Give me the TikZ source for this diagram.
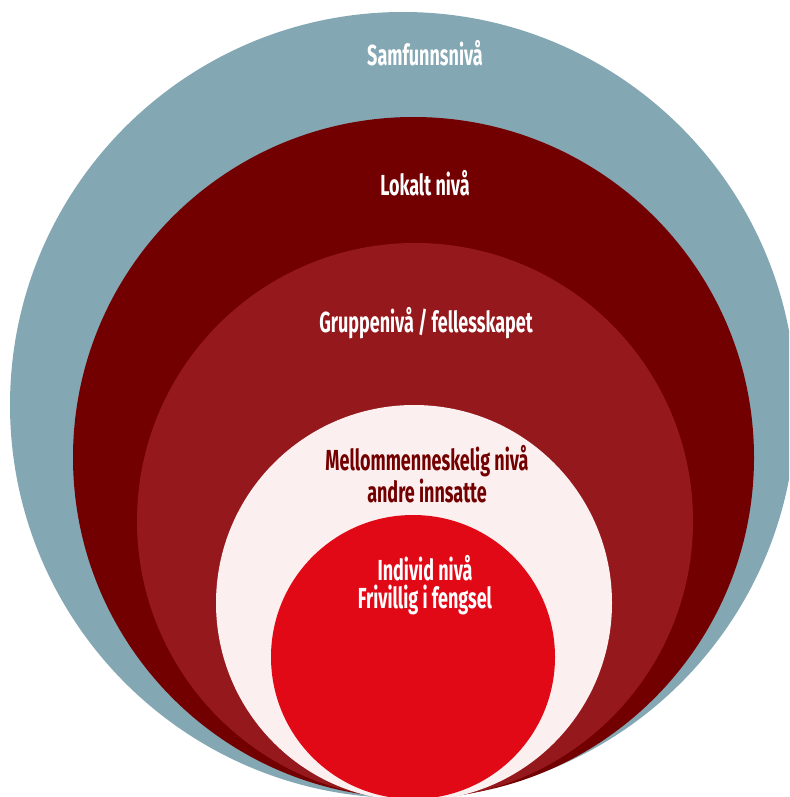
\documentclass[tikz,border=0pt]{standalone}
\usepackage{fontspec}
\setmainfont[FakeStretch=0.62]{Fira Sans}
\usetikzlibrary{positioning}

\definecolor{samfunncol}{HTML}{84A7B4}
\definecolor{lokaltcol}{HTML}{730000}
\definecolor{gruppecol}{HTML}{95181D}
\definecolor{mellomcol}{HTML}{FCEFEF}
\definecolor{individcol}{HTML}{E20917}

\begin{document}
\begin{tikzpicture}[x=0.02cm,y=-0.02cm,
    levtext/.style={font=\bfseries\fontsize{16.5}{16}\selectfont,text=white,align=center,inner sep=0pt}]
    \useasboundingbox (0,0) rectangle (789,797);
    \clip (0,0) rectangle (789,797);
    % nivaaene, fra ytterst til innerst
    \fill[samfunncol] (403,405) circle[radius=393];
    \fill[lokaltcol] (413.5,457.5) circle[radius=340.5];
    \fill[gruppecol] (415,521) circle[radius=278];
    \fill[mellomcol] (414,603) circle[radius=198];
    \fill[individcol] (413,657) circle[radius=142];
    % tekst
    \node[levtext] (samfunn) at (425,53) {Samfunnsnivå};
    \node[levtext] (lokalt) at (425,183) {Lokalt nivå};
    \node[levtext] (gruppe) at (426,323) {Gruppenivå / fellesskapet};
    \node[levtext,text=lokaltcol] (mellom) at (427,474) {Mellommenneskelig nivå\\andre innsatte};
    \node[levtext] (individ) at (425,585) {Individ nivå\\Frivillig i fengsel};
\end{tikzpicture}
\end{document}
